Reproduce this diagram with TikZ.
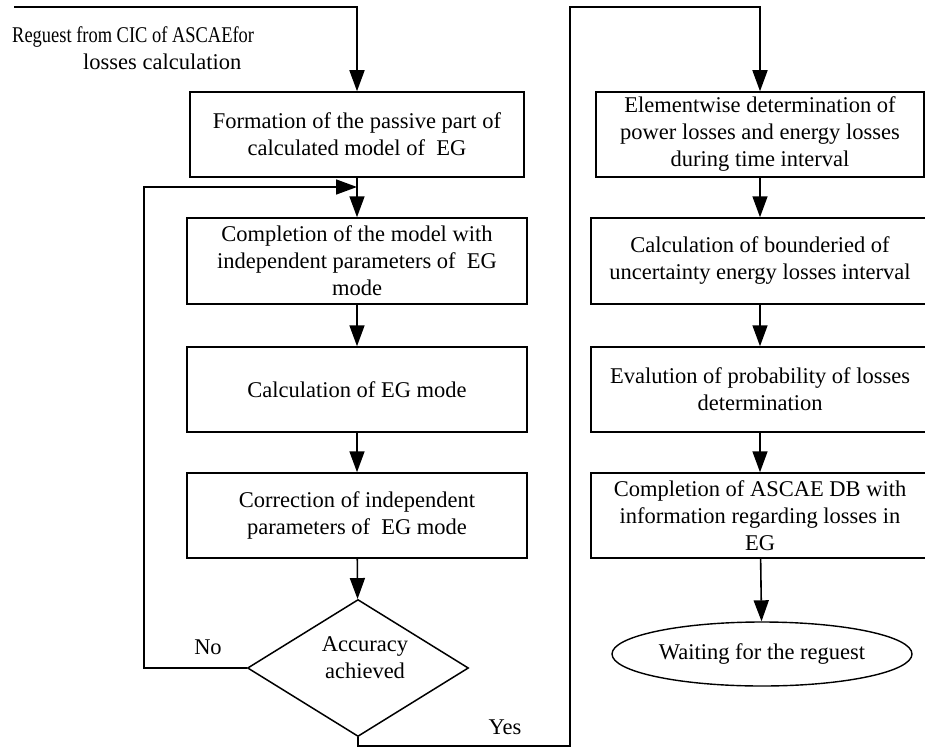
\documentclass[tikz,border=0pt]{standalone}
\usepackage{fontspec}
\setmainfont{Liberation Serif}
\usetikzlibrary{shapes.geometric,arrows.meta}
\begin{document}
\begin{tikzpicture}[x=1pt,y=-1pt,
  every node/.style={font=\fontsize{22.5}{27}\selectfont},
  box/.style={draw,line width=1.5pt,rectangle,align=center,inner sep=0pt,minimum height=85pt},
  arr/.style={line width=1.6pt,-{Triangle[length=21pt,width=15pt]}},
  ln/.style={line width=1.6pt}]
\useasboundingbox (0,0) rectangle (925,749);
\clip (0,0) rectangle (925,749);
% left column
\node[box,minimum width=334pt] (b1) at (357,134.5) {Formation of the passive part of\\calculated model of\ \ EG};
\node[box,minimum width=340pt,minimum height=86pt] (b2) at (357,261) {Completion of the model with\\independent parameters of\ \ EG\\mode};
\node[box,minimum width=340pt] (b3) at (357,389.5) {Calculation of EG mode};
\node[box,minimum width=340pt] (b4) at (357,515.5) {Correction of independent\\parameters of\ \ EG mode};
\node[draw,line width=1.5pt,diamond,aspect=1.61,minimum width=221pt,minimum height=137pt,inner sep=0pt,
  label={[align=center,xshift=7pt,yshift=10pt,inner sep=0pt]center:Accuracy\\achieved}] (d) at (358,668) {};
% right column
\node[box,minimum width=328pt] (b5) at (760,134.5) {Elementwise determination of\\power losses and energy losses\\during time interval};
\node[box,minimum width=338pt,minimum height=86pt] (b6) at (760,261) {Calculation of bounderied of\\uncertainty energy losses interval};
\node[box,minimum width=338pt] (b7) at (760,389.5) {Evalution of probability of losses\\determination};
\node[box,minimum width=338pt] (b8) at (760,515.5) {Completion of ASCAE DB with\\information regarding losses in\\EG};
\node[draw,line width=1.4pt,ellipse,minimum width=300pt,minimum height=64pt,inner sep=0pt] (e) at (762,654) {Waiting for the reguest};
% top-left label
\node[anchor=north west,align=left,inner sep=0pt] (lab) at (12,26) {\scalebox{0.82}[1]{Reguest from CIC of ASCAEfor}\\\hspace*{71pt}losses calculation};
\node (no) at (208,647) {No};
\node (yes) at (505,727) {Yes};
% coordinates
\coordinate (s) at (14,7);
\coordinate (lp) at (144,187);
\coordinate (lj) at (357,187);
\coordinate (y1) at (358,746);
\coordinate (y2) at (570,746);
\coordinate (y3) at (570,7);
% connectors
\draw[arr] (s) -| (b1.north);
\draw[arr] (b1) -- (b2);
\draw[arr] (b2) -- (b3);
\draw[arr] (b3) -- (b4);
\draw[arr] (b4) -- (d);
\draw[arr] (d.west) -| (lp) -- (lj);
\draw[arr] (d.south) -- (y1) -- (y2) -- (y3) -| (b5.north);
\draw[arr] (b5) -- (b6);
\draw[arr] (b6) -- (b7);
\draw[arr] (b7) -- (b8);
\draw[arr] (b8) -- (e);
\end{tikzpicture}
\end{document}
